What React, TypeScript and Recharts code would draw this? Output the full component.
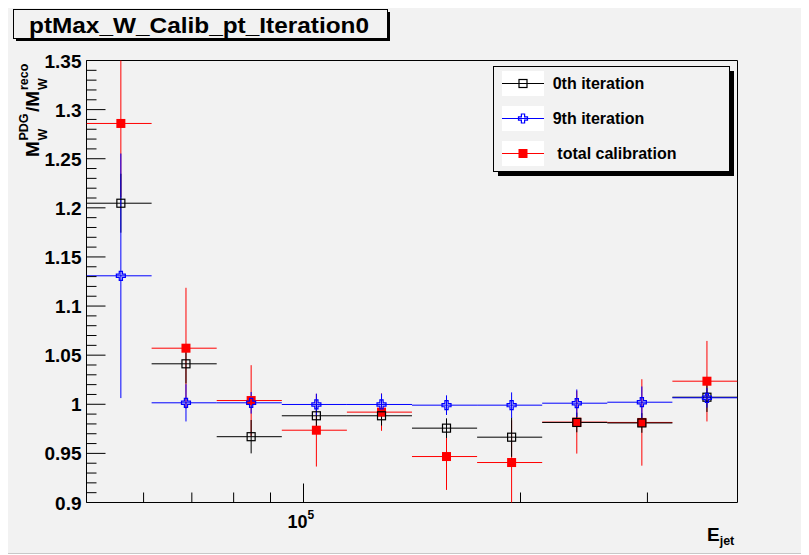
import React from 'react';
import { ScatterChart, Scatter, XAxis, YAxis, ErrorBar, ReferenceArea, Customized } from 'recharts';

// Bin edges (E_jet) and point positions
const binEdges = [50000, 61560, 75790, 93310, 114870, 141420, 174110, 214350, 263890, 324880, 400000];
const xCenters = [55800, 68700, 84600, 104200, 128300, 157900, 194400, 239400, 294700, 362800];

// 0th iteration (black open squares)
const iter0Values = [1.2047, 1.0412, 0.967, 0.9883, 0.9883, 0.9757, 0.9665, 0.9815, 0.981, 1.0072];
const iter0Errors = [0.03, 0.02, 0.017, 0.012, 0.01, 0.01, 0.02, 0.01, 0.01, 0.015];

// 9th iteration (blue open crosses)
const iter9Values = [1.1308, 1.0015, 1.0015, 0.9998, 0.9998, 0.9991, 0.9991, 1.0011, 1.0021, 1.0066];
const iter9Errors = [0.1245, 0.019, 0.011, 0.011, 0.011, 0.01, 0.013, 0.014, 0.016, 0.01];

// total calibration (red filled squares)
const totalValues = [1.2859, 1.0571, 1.0038, 0.9736, 0.992, 0.9468, 0.9407, 0.9818, 0.9815, 1.0235];
const totalErrors = [0.075, 0.0615, 0.036, 0.037, 0.019, 0.034, 0.043, 0.032, 0.044, 0.041];

const yMajorTicks = [0.9, 0.95, 1.0, 1.05, 1.1, 1.15, 1.2, 1.25, 1.3, 1.35];
const yTickLabels = ['0.9', '0.95', '1', '1.05', '1.1', '1.15', '1.2', '1.25', '1.3', '1.35'];
const xTicks = [60000, 70000, 80000, 90000, 100000, 200000, 300000];
const xMajorTick = 100000;

const FONT = '"Liberation Sans", Arial, Helvetica, sans-serif';

const yAllTicks: number[] = [];
for (let i = 0; i <= 45; i++) yAllTicks.push(Math.round((0.9 + i * 0.01) * 100) / 100);

function buildSeries(values: number[], errors: number[]) {
  return xCenters.map((x, i) => ({
    x,
    y: values[i],
    ex: [x - binEdges[i], binEdges[i + 1] - x],
    ey: errors[i],
  }));
}

const iter0Data = buildSeries(iter0Values, iter0Errors);
const iter9Data = buildSeries(iter9Values, iter9Errors);
const totalData = buildSeries(totalValues, totalErrors);

const YTick = (props: any) => {
  const { x, y, payload } = props;
  const v = payload.value;
  const idx = yMajorTicks.findIndex((m) => Math.abs(m - v) < 1e-6);
  const major = idx >= 0;
  return (
    <g>
      <line x1={x} x2={x + (major ? 19 : 10)} y1={y} y2={y} stroke="#000" strokeWidth={1} />
      {major && (
        <text x={x - 5} y={y + 7} textAnchor="end" fontSize={19} fontWeight="bold" fontFamily={FONT} fill="#000">
          {yTickLabels[idx]}
        </text>
      )}
    </g>
  );
};

const XTick = (props: any) => {
  const { x, y, payload } = props;
  const major = payload.value === xMajorTick;
  return (
    <g>
      <line x1={x} x2={x} y1={y} y2={y - (major ? 19 : 10)} stroke="#000" strokeWidth={1} />
      {major && (
        <text x={x - 16} y={y + 25.5} fontSize={18} fontWeight="bold" fontFamily={FONT} fill="#000">
          10
          <tspan dy={-9} fontSize={12}>5</tspan>
        </text>
      )}
    </g>
  );
};

const blackSquare = (props: any) => {
  const { cx, cy } = props;
  return <rect x={cx - 4} y={cy - 4} width={8} height={8} fill="none" stroke="#000" strokeWidth={1.2} />;
};
const redSquare = (props: any) => {
  const { cx, cy } = props;
  return <rect x={cx - 4.5} y={cy - 4.5} width={9} height={9} fill="#ff0000" stroke="none" />;
};
const blueCross = (props: any) => {
  const { cx, cy } = props;
  const a = 4.5;
  const b = 1.6;
  const d = `M${cx - b},${cy - a}L${cx + b},${cy - a}L${cx + b},${cy - b}L${cx + a},${cy - b}L${cx + a},${cy + b}L${cx + b},${cy + b}L${cx + b},${cy + a}L${cx - b},${cy + a}L${cx - b},${cy + b}L${cx - a},${cy + b}L${cx - a},${cy - b}L${cx - b},${cy - b}Z`;
  return <path d={d} fill="none" stroke="#0000ff" strokeWidth={1.2} />;
};

const legendRows = [
  { label: '0th iteration', color: '#000', marker: 'square', tx: 544.7, y: 75.5 },
  { label: '9th iteration', color: '#0000ff', marker: 'cross', tx: 544.7, y: 110.5 },
  { label: 'total calibration', color: '#ff0000', marker: 'filled', tx: 549.3, y: 145.5 },
];

const Decorations = () => {
  return (
    <g fontFamily={FONT} fontWeight="bold">
      <defs>
        <clipPath id="plotClip">
          <rect x={78.5} y={52.5} width={651} height={442} />
        </clipPath>
      </defs>
      {/* title box */}
      <rect x={8} y={4} width={374} height={29} fill="#000" />
      <rect x={5.5} y={1.5} width={374} height={29} fill="#f2f2f2" stroke="#000" strokeWidth={1} />
      <text x={21} y={25} fontSize={22} textLength={340} lengthAdjust="spacingAndGlyphs" fill="#000">
        ptMax_W_Calib_pt_Iteration0
      </text>

      {/* legend */}
      <rect x={490} y={63} width={236} height={105} fill="#000" />
      <rect x={485.5} y={58.5} width={236} height={105} fill="#f2f2f2" stroke="#000" strokeWidth={1} />
      {legendRows.map((r) => (
        <g key={r.label}>
          <rect x={494} y={r.y - 12.5} width={42} height={25} fill="#ffffff" />
          <line x1={494} x2={536} y1={r.y} y2={r.y} stroke={r.color} strokeWidth={1} />
          {r.marker === 'square' && blackSquare({ cx: 515, cy: r.y })}
          {r.marker === 'cross' && blueCross({ cx: 515, cy: r.y })}
          {r.marker === 'filled' && redSquare({ cx: 515, cy: r.y })}
          <text x={r.tx} y={r.y + 5.5} fontSize={16} fill="#000">
            {r.label}
          </text>
        </g>
      ))}

      {/* y-axis title */}
      <g transform="translate(31,149) rotate(-90)" fill="#000">
        <text x={0} y={0} fontSize={19}>M</text>
        <text x={16.5} y={8} fontSize={12.5}>W</text>
        <text x={16.5} y={-11} fontSize={12.5}>PDG</text>
        <text x={45} y={0} fontSize={19}>/M</text>
        <text x={67} y={8} fontSize={12.5}>W</text>
        <text x={67} y={-11} fontSize={12.5}>reco</text>
      </g>

      {/* x-axis title */}
      <text x={699} y={533} fontSize={19} fill="#000">
        E
        <tspan dy={4} fontSize={12.5}>jet</tspan>
      </text>
    </g>
  );
};

export default function App() {
  return (
    <div style={{ width: 801, height: 545, background: '#f2f2f2', borderBottom: '1px solid #c8c8c8' }}>
      <ScatterChart width={801} height={545} margin={{ top: 52.5, right: 71.5, bottom: 0, left: 0 }}>
        <XAxis
          dataKey="x"
          type="number"
          scale="log"
          domain={[50000, 400000]}
          allowDataOverflow
          ticks={xTicks}
          interval={0}
          height={50.5}
          tickSize={0}
          tickMargin={0}
          tickLine={false}
          axisLine={false}
          tick={<XTick />}
        />
        <YAxis
          dataKey="y"
          type="number"
          domain={[0.9, 1.35]}
          allowDataOverflow
          ticks={yAllTicks}
          interval={0}
          width={78.5}
          tickSize={0}
          tickMargin={0}
          tickLine={false}
          axisLine={false}
          tick={<YTick />}
        />
        <Scatter name="total calibration" data={totalData} fill="#ff0000" shape={redSquare} isAnimationActive={false}>
          <ErrorBar dataKey="ex" direction="x" width={0} stroke="#ff0000" strokeWidth={1} clipPath="url(#plotClip)" />
          <ErrorBar dataKey="ey" direction="y" width={0} stroke="#ff0000" strokeWidth={1} clipPath="url(#plotClip)" />
        </Scatter>
        <Scatter name="0th iteration" data={iter0Data} fill="#000" shape={blackSquare} isAnimationActive={false}>
          <ErrorBar dataKey="ex" direction="x" width={0} stroke="#000" strokeWidth={1} clipPath="url(#plotClip)" />
          <ErrorBar dataKey="ey" direction="y" width={0} stroke="#000" strokeWidth={1} clipPath="url(#plotClip)" />
        </Scatter>
        <Scatter name="9th iteration" data={iter9Data} fill="#0000ff" shape={blueCross} isAnimationActive={false}>
          <ErrorBar dataKey="ex" direction="x" width={0} stroke="#0000ff" strokeWidth={1} clipPath="url(#plotClip)" />
          <ErrorBar dataKey="ey" direction="y" width={0} stroke="#0000ff" strokeWidth={1} clipPath="url(#plotClip)" />
        </Scatter>
        <ReferenceArea x1={50000} x2={400000} y1={0.9} y2={1.35} fill="none" stroke="#000" strokeWidth={1} ifOverflow="visible" />
        <Customized component={Decorations} />
      </ScatterChart>
    </div>
  );
}
